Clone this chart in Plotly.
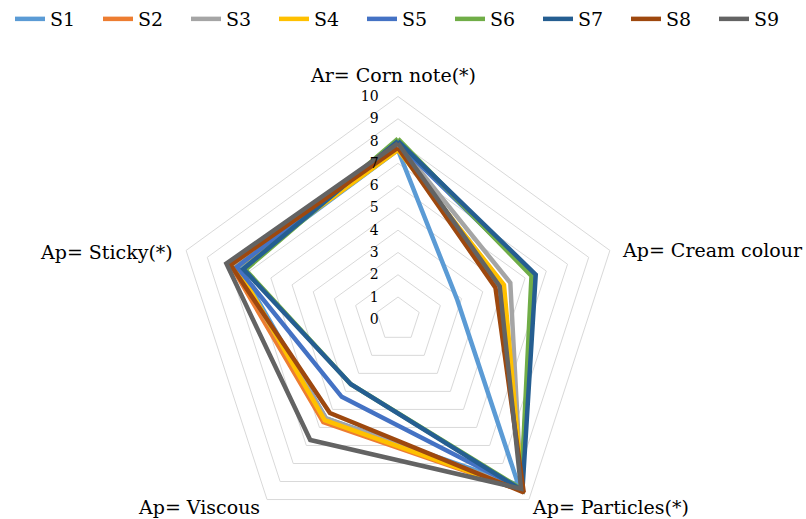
import plotly.graph_objects as go

categories = ["Ar= Corn note(*)", "Ap= Cream colour", "Ap= Particles(*)", "Ap= Viscous", "Ap= Sticky(*)"]
series_names = ["S1", "S2", "S3", "S4", "S5", "S6", "S7", "S8", "S9"]
S1 = [7.6, 2.8, 9.2, 5.5, 7.5]
S2 = [7.7, 4.8, 9.5, 5.7, 7.9]
S3 = [7.9, 5.3, 9.4, 5.5, 7.7]
S4 = [7.6, 5.0, 9.5, 5.6, 7.6]
S5 = [7.9, 6.4, 9.4, 4.3, 7.6]
S6 = [8.1, 6.3, 9.4, 3.6, 7.2]
S7 = [8.0, 6.5, 9.5, 3.6, 7.3]
S8 = [7.7, 4.6, 9.6, 5.2, 7.9]
S9 = [7.9, 4.8, 9.4, 6.7, 8.1]
series_values = [S1, S2, S3, S4, S5, S6, S7, S8, S9]
radial_ticks = [0, 1, 2, 3, 4, 5, 6, 7, 8, 9, 10]

colors = ["#5B9BD5", "#ED7D31", "#A5A5A5", "#FFC000", "#4472C4",
          "#70AD47", "#255E91", "#9E480E", "#636363"]

FONT = "DejaVu Serif"

W, H = 806, 560
fig = go.Figure()
for name, vals, col in zip(series_names, series_values, colors):
    fig.add_trace(go.Scatterpolar(
        r=vals + [vals[0]],
        theta=categories + [categories[0]],
        mode="lines",
        name=name,
        line=dict(color=col, width=4.5),
    ))

# category label placement (pixels from top-left), anchors
label_pos = [
    (393, 72, "center"),
    (620, 248, "left"),
    (530, 507, "left"),
    (262, 507, "right"),
    (175, 250, "right"),
]
annotations = []
for text, (px, py, anc) in zip(categories, label_pos):
    annotations.append(dict(
        text=text, x=px / W, y=1 - py / H, xref="paper", yref="paper",
        xanchor=anc, yanchor="middle", showarrow=False,
        font=dict(size=19, family=FONT, color="black"),
    ))

cx, cy, R = 398, 318, 224
fig.update_layout(
    width=W, height=H,
    margin=dict(l=0, r=0, t=0, b=0),
    paper_bgcolor="white",
    plot_bgcolor="white",
    font=dict(family=FONT, color="black", size=19),
    legend=dict(orientation="h", x=10 / W, xanchor="left", y=1 + 3 / H, yanchor="top",
                font=dict(size=19, family=FONT), entrywidth=43,
                itemwidth=30, bgcolor="rgba(0,0,0,0)"),
    annotations=annotations,
    polar=dict(
        domain=dict(x=[(cx - R) / W, (cx + R) / W], y=[1 - (cy + R) / H, 1 - (cy - R) / H]),
        bgcolor="white",
        gridshape="linear",
        radialaxis=dict(range=[0, 10], tickvals=radial_ticks, ticktext=[str(t) for t in radial_ticks],
                        angle=90, tickangle=90, showline=False,
                        ticks="outside", ticklen=14, tickcolor="rgba(0,0,0,0)",
                        gridcolor="#D9D9D9", gridwidth=1,
                        tickfont=dict(size=14, family=FONT, color="black"),
                        side="counterclockwise"),
        angularaxis=dict(direction="clockwise", rotation=90, showgrid=False,
                         showline=True, linecolor="#D9D9D9", linewidth=1, ticks="",
                         showticklabels=False),
    ),
)

fig.write_html("out.html", config={"displayModeBar": False},
               post_script="document.body.style.margin='0';document.body.style.overflow='hidden';")
